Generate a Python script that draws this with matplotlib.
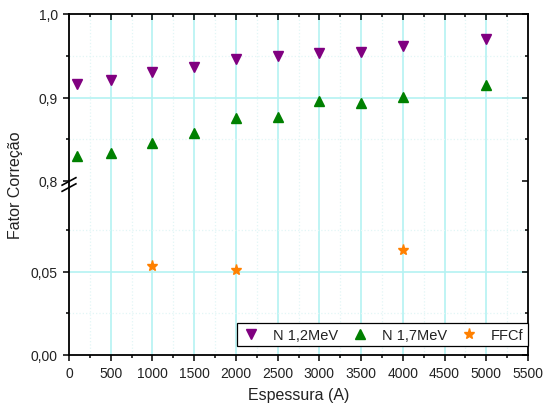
import numpy as np
import matplotlib
matplotlib.use("Agg")
import matplotlib.pyplot as plt
from matplotlib.ticker import FixedLocator, FuncFormatter, MultipleLocator

plt.rcParams["font.family"] = ["Liberation Sans", "DejaVu Sans"]

# Thickness (Angstrom) and correction factors
espessura = [100, 500, 1000, 1500, 2000, 2500, 3000, 3500, 4000, 5000]
n_12mev = [0.916, 0.921, 0.931, 0.936, 0.946, 0.950, 0.953, 0.955, 0.962, 0.970]
n_17mev = [0.830, 0.834, 0.845, 0.857, 0.875, 0.877, 0.896, 0.893, 0.901, 0.915]
ffcf_x = [1000, 2000, 4000]
ffcf = [0.053, 0.051, 0.063]

labels = ["N 1,2MeV", "N 1,7MeV", "FFCf"]

# Broken y axis: 0-0.1 and 0.8-1.0 share one axes through a piecewise scale
_data_pts = [0.0, 0.1, 0.8, 1.0]
_scr_pts = [0.0, 167.0, 174.0, 341.0]


def fwd(y):
    return np.interp(y, _data_pts, _scr_pts)


def inv(s):
    return np.interp(s, _scr_pts, _data_pts)


fig = plt.figure(figsize=(5.43, 4.06), dpi=100)
ax = fig.add_axes([69 / 543, 50 / 406, 459 / 543, 341 / 406])
ax.set_yscale("function", functions=(fwd, inv))
ax.set_xlim(0, 5500)
ax.set_ylim(0, 1.0)

grid_major = "#b4f2f2"
grid_minor = "#e2f6f6"

# vertical grid
for xv in np.arange(500, 5500, 500):
    ax.axvline(xv, color=grid_major, lw=1.2, zorder=0)
for xv in np.arange(250, 5500, 500):
    ax.axvline(xv, color=grid_minor, lw=0.9, ls=":", zorder=0)
# horizontal grid
for yv in [0.05, 0.9]:
    ax.axhline(yv, color=grid_major, lw=1.2, zorder=0)
for yv in [0.025, 0.075, 0.85, 0.95]:
    ax.axhline(yv, color=grid_minor, lw=0.9, ls=":", zorder=0)

h1, = ax.plot(espessura, n_12mev, ls="none", marker="v", ms=6.5,
              color="#800080", mec="#800080", zorder=3)
h2, = ax.plot(espessura, n_17mev, ls="none", marker="^", ms=6.5,
              color="#008000", mec="#008000", zorder=3)
h3, = ax.plot(ffcf_x, ffcf, ls="none", marker="*", ms=8,
              color="#ff8000", mec="#ff8000", zorder=3)

# ticks
ax.xaxis.set_major_locator(MultipleLocator(500))
ax.xaxis.set_minor_locator(MultipleLocator(250))
ax.yaxis.set_major_locator(FixedLocator([0.0, 0.05, 0.8, 0.9, 1.0]))
ax.yaxis.set_minor_locator(FixedLocator([0.025, 0.075, 0.85, 0.95]))


def yfmt(v, pos):
    if v < 0.5:
        return f"{v:.2f}".replace(".", ",")
    return f"{v:.1f}".replace(".", ",")


ax.yaxis.set_major_formatter(FuncFormatter(yfmt))
ax.xaxis.set_major_formatter(FuncFormatter(lambda v, p: f"{int(v)}"))

ax.tick_params(axis="both", which="both", labelsize=10, colors="black",
               labelcolor="#222222", width=1.1)
ax.tick_params(axis="both", which="major", length=4.5)
ax.tick_params(axis="both", which="minor", length=2.5)
ax.tick_params(axis="x", which="both", direction="out", top=True)
ax.tick_params(axis="y", which="both", direction="out", right=True)

# inner-pointing ticks on the top and right spines
for t in ax.xaxis.get_major_ticks() + ax.xaxis.get_minor_ticks():
    t.tick2line.set_marker(matplotlib.lines.TICKDOWN)
for t in ax.yaxis.get_major_ticks() + ax.yaxis.get_minor_ticks():
    t.tick2line.set_marker(matplotlib.lines.TICKLEFT)

for sp in ax.spines.values():
    sp.set_linewidth(1.3)
    sp.set_color("black")

# break marks on the left spine
ybrk = 170.5 / 341.0
for dy in (-0.009, 0.009):
    ax.plot([-0.015, 0.015], [ybrk + dy - 0.011, ybrk + dy + 0.011],
            transform=ax.transAxes, color="black", lw=1.2, clip_on=False,
            zorder=5)

ax.set_xlabel("Espessura (A)", fontsize=11.5, color="#222222", labelpad=5)
ax.set_ylabel("Fator Correção", fontsize=11.5, color="#222222", labelpad=6)

leg = ax.legend([h1, h2, h3], labels, loc="lower right", ncol=3,
                bbox_to_anchor=(1.0, 9 / 341), borderaxespad=0.0,
                fontsize=10.5, frameon=True, fancybox=False, framealpha=1.0,
                edgecolor="black", handletextpad=0.8, columnspacing=0.8,
                handlelength=1.4, borderpad=0.3)
leg.get_frame().set_linewidth(0.9)
for t in leg.get_texts():
    t.set_color("#222222")

fig.savefig("out.png", dpi=100)
